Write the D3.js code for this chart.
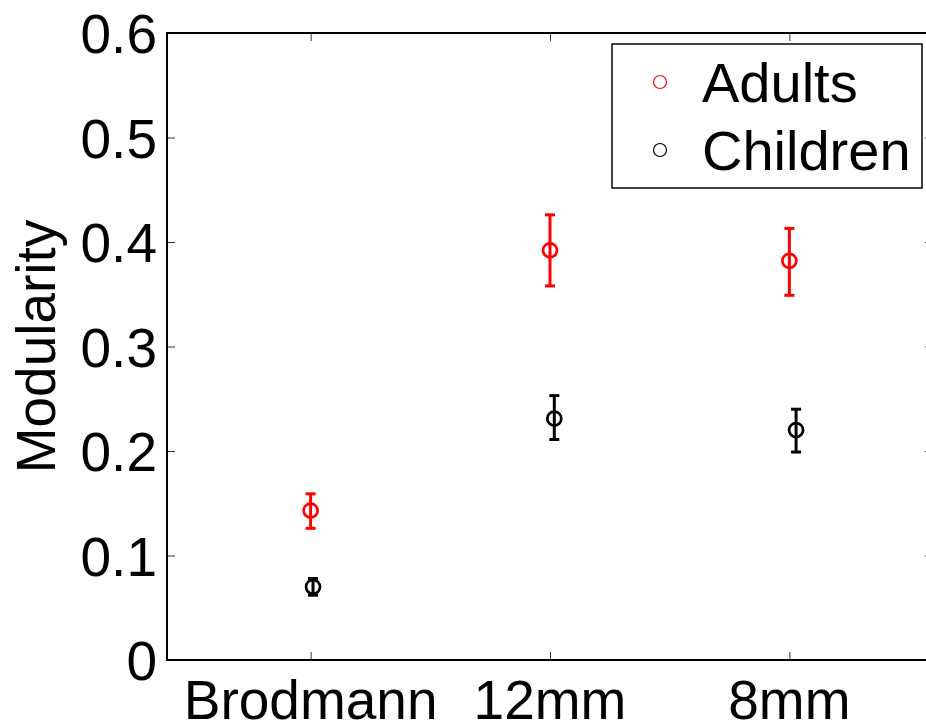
<!DOCTYPE html>
<html>
<head>
<meta charset="utf-8">
<script src="https://d3js.org/d3.v7.min.js"></script>
<style>
  body { margin: 0; padding: 0; background: white; }
  svg text { font-family: "Liberation Sans", Arial, sans-serif; }
</style>
</head>
<body>
<div id="chart"></div>
<script>
  // data
  const categories = ["Brodmann", "12mm", "8mm"];
  const adultsX = [1, 2, 3];
  const adultsMean = [0.143, 0.392, 0.382];
  const adultsLow = [0.126, 0.358, 0.349];
  const adultsHigh = [0.159, 0.426, 0.413];
  const childrenX = [1.01, 2.018, 3.028];
  const childrenMean = [0.070, 0.231, 0.220];
  const childrenLow = [0.062, 0.211, 0.199];
  const childrenHigh = [0.078, 0.253, 0.240];
  const yTicks = [0, 0.1, 0.2, 0.3, 0.4, 0.5, 0.6];

  const width = 926, height = 725;
  const plotLeft = 167, plotRight = 933, plotTop = 33, plotBottom = 660;

  const svg = d3.select("#chart").append("svg")
    .attr("width", width)
    .attr("height", height);

  const x = d3.scaleLinear().domain([0.4, 3.6]).range([plotLeft, plotRight]);
  const y = d3.scaleLinear().domain([0, 0.6]).range([plotBottom, plotTop]);

  function styleTicks(g) {
    g.select(".domain").remove();
    g.selectAll("line").attr("stroke", "#333").attr("stroke-width", 1);
  }

  // y axis ticks (inward, left and right)
  svg.append("g")
    .attr("transform", "translate(" + plotLeft + ",0)")
    .call(d3.axisRight(y).tickValues(yTicks).tickSize(8).tickFormat(""))
    .call(styleTicks);
  svg.append("g")
    .attr("transform", "translate(" + plotRight + ",0)")
    .call(d3.axisLeft(y).tickValues(yTicks).tickSize(8).tickFormat(""))
    .call(styleTicks);

  // x axis ticks (inward, bottom and top)
  svg.append("g")
    .attr("transform", "translate(0," + plotBottom + ")")
    .call(d3.axisTop(x).tickValues(adultsX).tickSize(8).tickFormat(""))
    .call(styleTicks);
  svg.append("g")
    .attr("transform", "translate(0," + plotTop + ")")
    .call(d3.axisBottom(x).tickValues(adultsX).tickSize(8).tickFormat(""))
    .call(styleTicks);

  // box
  svg.append("rect")
    .attr("x", plotLeft).attr("y", plotTop)
    .attr("width", plotRight - plotLeft).attr("height", plotBottom - plotTop)
    .attr("fill", "none").attr("stroke", "black").attr("stroke-width", 2);

  // tick labels
  svg.selectAll(".ylab")
    .data(yTicks)
    .enter().append("text")
    .attr("x", plotLeft - 10)
    .attr("y", d => y(d) + 20)
    .attr("text-anchor", "end")
    .style("font-size", "55px")
    .text(d => d === 0 ? "0" : d3.format(".1f")(d));

  svg.selectAll(".xlab")
    .data(categories)
    .enter().append("text")
    .attr("x", (d, i) => x(adultsX[i]))
    .attr("y", plotBottom + 59)
    .attr("text-anchor", "middle")
    .style("font-size", "55px")
    .text(d => d);

  svg.append("text")
    .attr("transform", "translate(55," + ((plotTop + plotBottom) / 2) + ") rotate(-90)")
    .attr("text-anchor", "middle")
    .style("font-size", "55px")
    .text("Modularity");

  // error bars + markers
  function drawSeries(xs, mean, lo, hi, color) {
    const g = svg.append("g");
    const rows = xs.map((d, i) => ({ x: d, m: mean[i], lo: lo[i], hi: hi[i] }));
    g.selectAll(".bar").data(rows).enter().append("line")
      .attr("x1", d => x(d.x)).attr("x2", d => x(d.x))
      .attr("y1", d => y(d.lo)).attr("y2", d => y(d.hi))
      .attr("stroke", color).attr("stroke-width", 3);
    g.selectAll(".capTop").data(rows).enter().append("line")
      .attr("x1", d => x(d.x) - 5).attr("x2", d => x(d.x) + 5)
      .attr("y1", d => y(d.hi)).attr("y2", d => y(d.hi))
      .attr("stroke", color).attr("stroke-width", 3);
    g.selectAll(".capBot").data(rows).enter().append("line")
      .attr("x1", d => x(d.x) - 5).attr("x2", d => x(d.x) + 5)
      .attr("y1", d => y(d.lo)).attr("y2", d => y(d.lo))
      .attr("stroke", color).attr("stroke-width", 3);
    g.selectAll(".pt").data(rows).enter().append("circle")
      .attr("cx", d => x(d.x)).attr("cy", d => y(d.m))
      .attr("r", 7)
      .attr("fill", "none")
      .attr("stroke", color).attr("stroke-width", 2.7);
  }
  drawSeries(adultsX, adultsMean, adultsLow, adultsHigh, "#ff0000");
  drawSeries(childrenX, childrenMean, childrenLow, childrenHigh, "#000000");

  // legend
  const legend = svg.append("g");
  legend.append("rect")
    .attr("x", 612).attr("y", 44)
    .attr("width", 310).attr("height", 144)
    .attr("fill", "white").attr("stroke", "black").attr("stroke-width", 1.5);
  const legendItems = [["Adults", "#ff0000"], ["Children", "#000000"]];
  legend.selectAll("circle").data(legendItems).enter().append("circle")
    .attr("cx", 660).attr("cy", (d, i) => 82 + i * 68)
    .attr("r", 6.5)
    .attr("fill", "none").attr("stroke", d => d[1]).attr("stroke-width", 1.2);
  legend.selectAll("text").data(legendItems).enter().append("text")
    .attr("x", 702).attr("y", (d, i) => 102 + i * 68)
    .style("font-size", "56px")
    .text(d => d[0]);
</script>
</body>
</html>
